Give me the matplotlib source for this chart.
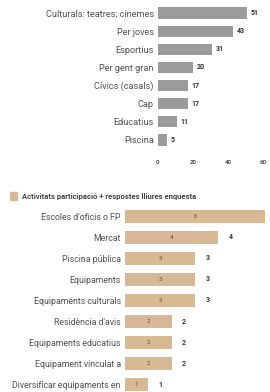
import matplotlib.pyplot as plt

plt.rcParams["font.family"] = ["Roboto", "DejaVu Sans"]

top_labels = ["Culturals: teatres; cinemes", "Per joves", "Esportius", "Per gent gran",
              "Cívics (casals)", "Cap", "Educatius", "Piscina"]
top_values = [51, 43, 31, 20, 17, 17, 11, 5]
top_ticks = [0, 20, 40, 60]

bot_labels = ["Escoles d'oficis o FP", "Mercat", "Piscina pública", "Equipaments",
              "Equipaments culturals", "Residència d'avis", "Equipaments educatius",
              "Equipament vinculat a", "Diversificar equipaments en"]
bot_values = [6, 4, 3, 3, 3, 2, 2, 2, 1]
legend_label = "Activitats participació + respostes lliures enquesta"

W, H = 270, 392
fig = plt.figure(figsize=(W / 100, H / 100), dpi=100)
txt = "#505050"

# gràfic de dalt
ax1 = fig.add_axes([158 / W, 1 - 149 / H, 105 / W, 145 / H])
y1 = range(len(top_values))
ax1.barh(y1, top_values, height=0.62, color="#9b9b9b")
for y, v in zip(y1, top_values):
    ax1.text(v + 2, y, str(v), va="center", ha="left", fontsize=5, fontweight="bold", color="#333333")
ax1.set_xlim(0, 60)
ax1.set_ylim(len(top_values) - 0.5, -0.5)
ax1.set_yticks(list(y1))
ax1.set_yticklabels(top_labels, fontsize=6.6, color=txt)
ax1.set_xticks(top_ticks)
ax1.set_xticklabels([str(t) for t in top_ticks], fontsize=4.5, fontweight="bold", color="#555555")
ax1.tick_params(length=0, pad=3)
ax1.tick_params(axis="x", pad=8)
for s in ax1.spines.values():
    s.set_visible(False)

# gràfic de baix
ax2 = fig.add_axes([125 / W, 1 - 395.5 / H, 140 / W, 190 / H])
y2 = range(len(bot_values))
ax2.barh(y2, bot_values, height=0.62, color="#d9b894")
for y, v in zip(y2, bot_values):
    ax2.text(v / 2, y, str(v), va="center", ha="center", fontsize=4.5, color="#6b4c2e")
    if v + 0.45 < 6:
        ax2.text(v + 0.45, y, str(v), va="center", ha="left", fontsize=5, fontweight="bold",
                 color="#333333")
ax2.set_xlim(0, 6)
ax2.set_ylim(len(bot_values) - 0.5, -0.5)
ax2.set_yticks(list(y2))
ax2.set_yticklabels(bot_labels, fontsize=6.3, color=txt)
ax2.set_xticks([])
ax2.tick_params(length=0, pad=3)
for s in ax2.spines.values():
    s.set_visible(False)

fig.patches.append(plt.Rectangle((10 / W, 1 - 199.5 / H), 7 / W, 7 / H, transform=fig.transFigure,
                                 color="#d9b894"))
fig.text(22 / W, 1 - 196 / H, legend_label, fontsize=5.5, fontweight="bold", color="#444444",
         va="center", ha="left")

fig.savefig("out.png", dpi=100)
